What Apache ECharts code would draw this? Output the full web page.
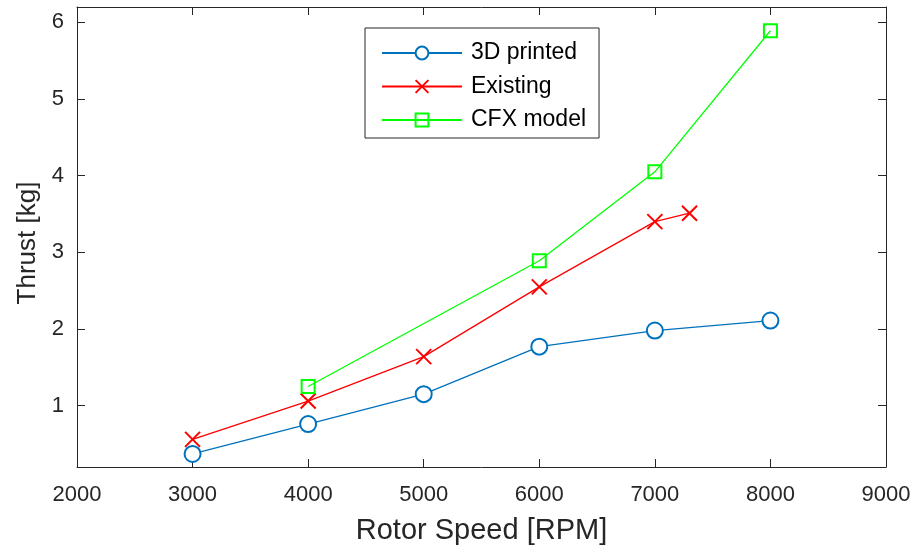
<!DOCTYPE html>
<html><head><meta charset="utf-8">
<script src="https://cdn.jsdelivr.net/npm/echarts@6/dist/echarts.min.js"></script>
<style>html,body{margin:0;padding:0;background:#fff}#c{width:914px;height:550px}</style>
</head><body><div id="c"></div>
<script>
const printedRPM = [3000, 4000, 5000, 6000, 7000, 8000];
const printedThrust = [0.37, 0.76, 1.15, 1.77, 1.98, 2.11];
const existingRPM = [3000, 4000, 5000, 6000, 7000, 7300];
const existingThrust = [0.56, 1.06, 1.64, 2.55, 3.40, 3.51];
const cfxRPM = [4000, 6000, 7000, 8000];
const cfxThrust = [1.25, 2.89, 4.05, 5.89];
const yTicks = [1, 2, 3, 4, 5, 6];
const seriesNames = ['3D printed', 'Existing', 'CFX model'];

const pairs = (xs, ys) => xs.map((x, i) => [x, ys[i]]);
const FONT = 'Liberation Sans, Arial, sans-serif';
const AX = '#262626';

const chart = echarts.init(document.getElementById('c'), null, {renderer: 'canvas'});
const xBase = {
  type: 'value', min: 2000, max: 9000, interval: 1000,
  axisLine: {show: true, onZero: false, lineStyle: {color: AX, width: 1}},
  axisTick: {show: true, inside: true, length: 8, lineStyle: {color: AX}},
  splitLine: {show: false}
};
const yBase = {
  type: 'value', min: 0.2, max: 6.2,
  axisLine: {show: true, onZero: false, lineStyle: {color: AX, width: 1}},
  axisTick: {show: true, inside: true, length: 8, customValues: yTicks, lineStyle: {color: AX}},
  splitLine: {show: false}
};
chart.setOption({
  animation: false,
  grid: {left: 77, top: 7, right: 28, bottom: 83, containLabel: false},
  legend: {
    data: seriesNames,
    orient: 'vertical',
    left: 365, top: 28,
    itemWidth: 80, itemHeight: 16, itemGap: 9.5,
    padding: [13, 13, 6, 16],
    borderColor: '#262626', borderWidth: 1,
    backgroundColor: '#fff',
    textStyle: {fontFamily: FONT, fontSize: 23, lineHeight: 24, color: '#000', padding: [0, 0, 0, 4]}
  },
  xAxis: [
    Object.assign({}, xBase, {
      position: 'bottom',
      name: 'Rotor Speed [RPM]', nameLocation: 'middle', nameGap: 49,
      nameTextStyle: {fontFamily: FONT, fontSize: 29, color: '#262626'},
      axisLabel: {fontFamily: FONT, fontSize: 22, color: '#262626', margin: 17,
        formatter: v => String(v)}
    }),
    Object.assign({}, xBase, {position: 'top', axisLabel: {show: false}})
  ],
  yAxis: [
    Object.assign({}, yBase, {
      position: 'left',
      name: 'Thrust [kg]', nameLocation: 'middle', nameGap: 36, nameRotate: 90,
      nameTextStyle: {fontFamily: FONT, fontSize: 26, color: '#262626', padding: [0, 12, 0, 0]},
      axisLabel: {fontFamily: FONT, fontSize: 22, color: '#262626', margin: 13, customValues: yTicks,
        formatter: v => String(v)}
    }),
    Object.assign({}, yBase, {position: 'right', axisLabel: {show: false}})
  ],
  series: [
    {
      name: seriesNames[0], type: 'line', data: pairs(printedRPM, printedThrust),
      symbol: 'emptyCircle', symbolSize: 16,
      lineStyle: {color: '#0072BD', width: 1.3},
      itemStyle: {color: '#0072BD', borderColor: '#0072BD', borderWidth: 1.8}
    },
    {
      name: seriesNames[1], type: 'line', data: pairs(existingRPM, existingThrust),
      symbol: 'path://M0,0L10,10M10,0L0,10', symbolSize: 15,
      lineStyle: {color: '#FF0000', width: 1.3},
      itemStyle: {color: 'none', borderColor: '#FF0000', borderWidth: 2}
    },
    {
      name: seriesNames[2], type: 'line', data: pairs(cfxRPM, cfxThrust),
      symbol: 'rect', symbolSize: 13,
      lineStyle: {color: '#00FF00', width: 1.3},
      itemStyle: {color: 'rgba(255,255,255,0)', borderColor: '#00FF00', borderWidth: 2}
    }
  ]
});
</script></body></html>
